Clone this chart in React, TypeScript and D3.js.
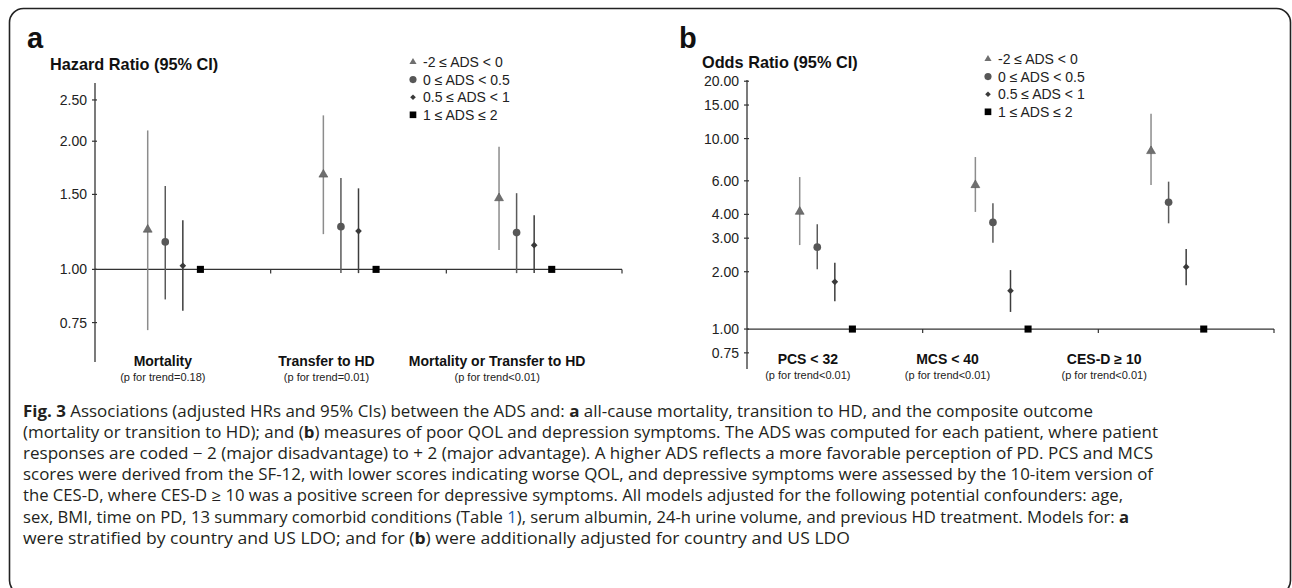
import * as d3 from "d3";

// legend / series
const seriesLabels = ["-2 ≤ ADS  < 0", "0 ≤ ADS  < 0.5", "0.5 ≤ ADS  < 1", "1 ≤ ADS ≤ 2"];

// panel a : hazard ratios
const hrCategories = ["Mortality", "Transfer to HD", "Mortality or Transfer to HD"];
const hrTrend = ["(p for trend=0.18)", "(p for trend=0.01)", "(p for trend<0.01)"];
const hrTicks = [0.75, 1, 1.5, 2, 2.5];
const hrEst = [
  [1.24, 1.67, 1.47],
  [1.16, 1.26, 1.22],
  [1.02, 1.23, 1.14],
  [1, 1, 1],
];
const hrLow = [
  [0.72, 1.21, 1.11],
  [0.85, 0.98, 0.98],
  [0.8, 0.98, 0.98],
  [1, 1, 1],
];
const hrHigh = [
  [2.12, 2.3, 1.94],
  [1.57, 1.64, 1.51],
  [1.305, 1.55, 1.34],
  [1, 1, 1],
];

// panel b : odds ratios
const orCategories = ["PCS < 32", "MCS < 40", "CES-D ≥ 10"];
const orTrend = ["(p for trend<0.01)", "(p for trend<0.01)", "(p for trend<0.01)"];
const orTicks = [0.75, 1, 2, 3, 4, 6, 10, 15, 20];
const orEst = [
  [4.13, 5.7, 8.6],
  [2.69, 3.63, 4.63],
  [1.77, 1.59, 2.12],
  [1, 1, 1],
];
const orLow = [
  [2.76, 4.12, 5.7],
  [2.06, 2.84, 3.59],
  [1.4, 1.23, 1.7],
  [1, 1, 1],
];
const orHigh = [
  [6.28, 8.0, 13.5],
  [3.55, 4.57, 5.94],
  [2.23, 2.04, 2.63],
  [1, 1, 1],
];

const captionLines = [
  [["Fig. 3", true], [" Associations (adjusted HRs and 95% CIs) between the ADS and: ", false], ["a", true], [" all-cause mortality, transition to HD, and the composite outcome", false]],
  [["(mortality or transition to HD); and (", false], ["b", true], [") measures of poor QOL and depression symptoms. The ADS was computed for each patient, where patient", false]],
  [["responses are coded \u2212 2 (major disadvantage) to + 2 (major advantage). A higher ADS reflects a more favorable perception of PD. PCS and MCS", false]],
  [["scores were derived from the SF-12, with lower scores indicating worse QOL, and depressive symptoms were assessed by the 10-item version of", false]],
  [["the CES-D, where CES-D \u2265 10 was a positive screen for depressive symptoms. All models adjusted for the following potential confounders: age,", false]],
  [["sex, BMI, time on PD, 13 summary comorbid conditions (Table ", false], ["1", "link"], ["), serum albumin, 24-h urine volume, and previous HD treatment. Models for: ", false], ["a", true]],
  [["were stratified by country and US LDO; and for (", false], ["b", true], [") were additionally adjusted for country and US LDO", false]],
];
const captionWidths = [1070, 1135, 1130, 1130, 1100, 1106, 827];

const FONT = "'Liberation Sans', Arial, sans-serif";
const symbols = [d3.symbolTriangle, d3.symbolCircle, d3.symbolDiamond2, d3.symbolSquare];
const markSize = [34, 46, 28, 50];
const legendSize = [22, 40, 20, 44];
const fills = ["#6f6f6f", "#575757", "#3a3a3a", "#000"];
const barColors = ["#8c8c8c", "#5a5a5a", "#3d3d3d", "#000"];

function Panel({ letter, title, cats, trend, ticks, est, low, high, xRange, yDomain, yRange, labelShift, labelY, letterX, titleX, titleY, legendX, legendY }) {
  const x = d3.scaleBand().domain(cats).range(xRange).padding(0);
  const bw = x.bandwidth();
  const y = d3.scaleLog().domain(yDomain).range(yRange);
  const off = d3.scaleLinear().domain([0, 1]).range([bw * 0.3, bw * 0.4]);
  const x0 = xRange[0];
  const y1 = y(1);
  return (
    <g fontFamily={FONT}>
      <text x={letterX} y={48} fontSize={29} fontWeight="bold" fill="#111">{letter}</text>
      <text x={titleX} y={titleY} fontSize={16.3} fontWeight="bold" fill="#111">{title}</text>
      {/* y axis */}
      <line x1={x0} x2={x0} y1={yRange[1]} y2={yRange[0]} stroke="#333" strokeWidth={1.3} />
      {ticks.map((t) => (
        <g key={t}>
          <line x1={x0 - 3} x2={x0 + 2} y1={y(t)} y2={y(t)} stroke="#333" strokeWidth={1.2} />
          <text x={x0 - 8} y={y(t)} dy="0.36em" textAnchor="end" fontSize={14} fill="#222">{d3.format(".2f")(t)}</text>
        </g>
      ))}
      {/* x axis at 1.00 */}
      <line x1={x0} x2={xRange[1]} y1={y1} y2={y1} stroke="#333" strokeWidth={1.3} />
      {cats.map((c) => (
        <line key={c} x1={x(c) + bw} x2={x(c) + bw} y1={y1} y2={y1 + 4} stroke="#333" strokeWidth={1.2} />
      ))}
      {/* error bars + markers */}
      {est.map((row, s) =>
        row.map((v, i) => {
          const cx = x(cats[i]) + off(s);
          return (
            <g key={s + "-" + i}>
              {s < 3 && (
                <line x1={cx} x2={cx} y1={y(low[s][i])} y2={y(high[s][i])} stroke={barColors[s]} strokeWidth={1.5} />
              )}
              <path
                d={d3.symbol().type(symbols[s]).size(markSize[s])()}
                transform={`translate(${cx},${y(v)})`}
                fill={fills[s]}
                stroke={s === 0 ? "#555" : "none"}
                strokeWidth={0.6}
              />
            </g>
          );
        })
      )}
      {/* category labels */}
      {cats.map((c, i) => {
        const cx = x(c) + bw / 2 + labelShift[i];
        return (
          <g key={"l" + c}>
            <text x={cx} y={labelY} textAnchor="middle" fontSize={14} fontWeight="bold" fill="#111">{c}</text>
            <text x={cx} y={labelY + 15} textAnchor="middle" fontSize={11} fill="#222">{trend[i]}</text>
          </g>
        );
      })}
      {/* legend */}
      {seriesLabels.map((l, s) => (
        <g key={l} transform={`translate(${legendX},${legendY + s * 17.6})`}>
          <path d={d3.symbol().type(symbols[s]).size(legendSize[s])()} fill={fills[s]} />
          <text x={10} y={0} dy="0.36em" fontSize={14} fill="#222">{l}</text>
        </g>
      ))}
    </g>
  );
}

export default function App() {
  return (
    <svg width={1292} height={588} style={{ position: "absolute", left: 0, top: 0, background: "#fff" }}>
      <rect x={9.5} y={8.5} width={1281} height={586} rx={14} fill="#fff" stroke="#222" strokeWidth={1.6} />
      <Panel
        letter="a"
        title="Hazard Ratio (95% CI)"
        cats={hrCategories}
        trend={hrTrend}
        ticks={hrTicks}
        est={hrEst}
        low={hrLow}
        high={hrHigh}
        xRange={[95, 622]}
        yDomain={[0.606, 2.74]}
        yRange={[362, 83]}
        labelShift={[-20, -32, -37]}
        labelY={365.5}
        letterX={27}
        titleX={50}
        titleY={70}
        legendX={413}
        legendY={62}
      />
      <Panel
        letter="b"
        title="Odds Ratio (95% CI)"
        cats={orCategories}
        trend={orTrend}
        ticks={orTicks}
        est={orEst}
        low={orLow}
        high={orHigh}
        xRange={[747, 1274]}
        yDomain={[0.617, 20.3]}
        yRange={[369, 80]}
        labelShift={[-27, -63, -82]}
        labelY={363.5}
        letterX={679}
        titleX={702}
        titleY={68}
        legendX={988}
        legendY={59}
      />
      <g fontFamily="'Open Sans', sans-serif" fontSize={15.5} fill="#231f20">
        {captionLines.map((segs, li) => (
          <text key={li} x={23} y={417 + li * 21.1} textLength={captionWidths[li]} lengthAdjust="spacingAndGlyphs">
            {segs.map(([t, b], k) => (
              <tspan key={k} fontWeight={b === true ? "bold" : "normal"} fill={b === "link" ? "#1a5fb4" : "#231f20"}>{t}</tspan>
            ))}
          </text>
        ))}
      </g>
    </svg>
  );
}
